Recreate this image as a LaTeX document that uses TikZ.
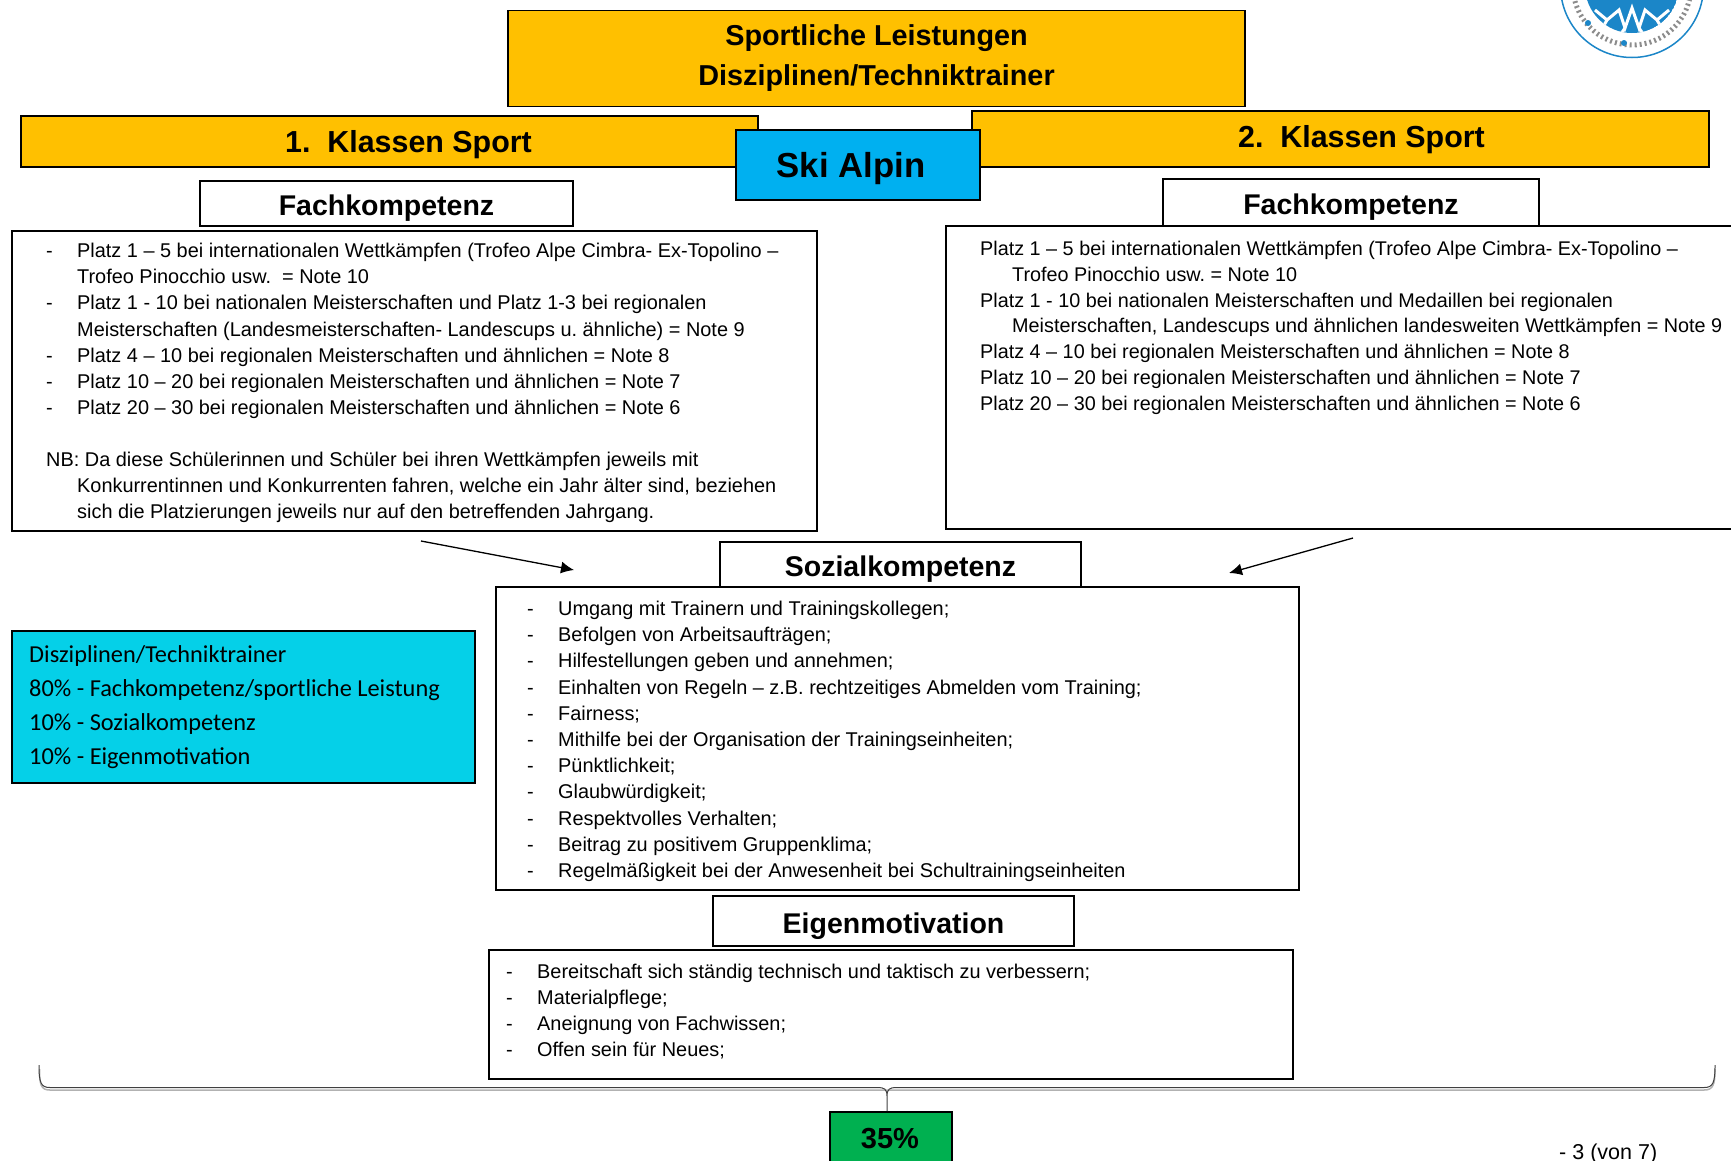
\documentclass[tikz,border=0pt]{standalone}
\usepackage{fontspec}
\setmainfont{Liberation Sans}
\newfontfamily\calibrifont{Carlito}
\usetikzlibrary{arrows.meta}

\definecolor{gold}{HTML}{FFC000}
\definecolor{skiblau}{HTML}{00B0F0}
\definecolor{tuerkis}{HTML}{05D0E8}
\definecolor{gruen}{HTML}{00B050}
\definecolor{logoblau}{HTML}{1B86C8}

\tikzset{
    kasten/.style={draw,line width=1.5pt,inner sep=0pt,align=center},
    kopf/.style={kasten,font=\bfseries\fontsize{28.5}{34}\selectfont,text height=24pt,text depth=0pt},
    klasse/.style={kasten,fill=gold,minimum width=737pt,font=\bfseries\fontsize{30.4}{38}\selectfont,text height=21pt,text depth=0pt},
    zeile/.style={anchor=base west,inner sep=0pt,font=\fontsize{19.9}{22}\selectfont},
    zeilecal/.style={anchor=base west,inner sep=0pt,font=\calibrifont\fontsize{24.35}{30}\selectfont},
    pfeil/.style={-{Latex[length=13pt,width=12pt]},line width=1.3pt},
}

\newcommand{\strich}{\makebox[31pt][l]{-}}

\NewDocumentCommand{\zeilen}{O{zeile}mmmmm}{%
\foreach \txt [count=\i] in {#6} {%
\node[#1] (#2\i) at ({#3},{#4+#5*(\i-1)}) {\txt};%
}%
}

\begin{document}
\begin{tikzpicture}[x=1pt,y=-1pt]
    \clip (0,0) rectangle (1731,1160);

    % Logo.
    \draw[logoblau,line width=1.5pt,fill=white] (1632,-14) circle (71.5);
    \begin{scope}
        \clip (1632,-14) circle (47);
        \fill[logoblau] (1632,-14) circle (47);
        \draw[white,line width=3pt] (1595,10) -- (1607,20) -- (1619,10) -- (1625,28) -- (1632,8) -- (1639,28) -- (1645,10) -- (1657,20) -- (1669,10);
        \draw[white,line width=3pt] (1607,20) -- (1600,32);
        \draw[white,line width=3pt] (1657,20) -- (1664,32);
        \draw[white,line width=3pt] (1625,28) -- (1618,38);
        \draw[white,line width=3pt] (1639,28) -- (1646,38);
    \end{scope}
    \draw[black!45,line width=5pt,dash pattern=on 2pt off 3pt] (1632,-14) ++(170:59) arc (170:10:59);
    \fill[logoblau] (1588,23) circle (3);
    \fill[logoblau] (1624,43) circle (3);

    \node[kasten,fill=gold,minimum width=737pt,minimum height=96pt,
        font=\bfseries\fontsize{28.8}{40}\selectfont] (titel) at (876.5,58.5) {Sportliche Leistungen\\Disziplinen/Techniktrainer};
    \node[klasse,minimum height=51pt] (klasseeins) at (389.5,141.5) {\hspace*{38pt}1.\ \ Klassen Sport};
    \node[klasse,minimum height=56pt,text height=16.6pt] (klassezwei) at (1340.5,139) {\hspace*{42pt}2.\ \ Klassen Sport};
    \node[kasten,fill=skiblau,minimum width=244pt,minimum height=70pt,
        font=\bfseries\fontsize{34.7}{42}\selectfont,text height=24pt,text depth=0pt] (skialpin) at (858,165) {\hspace*{-14pt}Ski Alpin};

    \node[kopf,minimum width=373pt,minimum height=45pt] (fachlinks) at (386.5,203.5) {Fachkompetenz};
    \node[kopf,minimum width=376pt,minimum height=47pt] (fachrechts) at (1351,202.5) {Fachkompetenz};
    \node[kasten,minimum width=805pt,minimum height=300pt] (listelinks) at (414.5,381) {};
    \node[kasten,minimum width=814pt,minimum height=303pt] (listerechts) at (1353,377.5) {};

    % Linke Liste.
    \zeilen{pla}{46}{257.5}{26.2}{
        \strich Platz 1 – 5 bei internationalen Wettkämpfen (Trofeo Alpe Cimbra- Ex-Topolino –,
        \hspace{31pt}Trofeo Pinocchio usw.\ \ = Note 10,
        \strich Platz 1 - 10 bei nationalen Meisterschaften und Platz 1-3 bei regionalen,
        \hspace{31pt}Meisterschaften (Landesmeisterschaften- Landescups u.\ ähnliche) = Note 9,
        \strich Platz 4 – 10 bei regionalen Meisterschaften und ähnlichen = Note 8,
        \strich Platz 10 – 20 bei regionalen Meisterschaften und ähnlichen = Note 7,
        \strich Platz 20 – 30 bei regionalen Meisterschaften und ähnlichen = Note 6}
    \zeilen{nb}{46}{466.5}{26.2}{
        NB: Da diese Schülerinnen und Schüler bei ihren Wettkämpfen jeweils mit,
        {\hspace{31pt}Konkurrentinnen und Konkurrenten fahren, welche ein Jahr älter sind, beziehen},
        \hspace{31pt}sich die Platzierungen jeweils nur auf den betreffenden Jahrgang.}

    % Rechte Liste.
    \zeilen[zeile,font=\fontsize{19.8}{22}\selectfont]{plb}{980}{255.5}{25.8}{
        Platz 1 – 5 bei internationalen Wettkämpfen (Trofeo Alpe Cimbra- Ex-Topolino –,
        \hspace{32pt}Trofeo Pinocchio usw.\ = Note 10,
        Platz 1 - 10 bei nationalen Meisterschaften und Medaillen bei regionalen,
        {\hspace{32pt}Meisterschaften, Landescups und ähnlichen landesweiten Wettkämpfen = Note 9},
        Platz 4 – 10 bei regionalen Meisterschaften und ähnlichen = Note 8,
        Platz 10 – 20 bei regionalen Meisterschaften und ähnlichen = Note 7,
        Platz 20 – 30 bei regionalen Meisterschaften und ähnlichen = Note 6}

    \node[kopf,minimum width=361pt,minimum height=45pt] (sozial) at (900.5,564.5) {Sozialkompetenz};
    \node[kasten,minimum width=803pt,minimum height=303pt] (sozialliste) at (897.5,738.5) {};
    \zeilen{soz}{527}{615.5}{26.2}{
        \strich Umgang mit Trainern und Trainingskollegen;,
        \strich Befolgen von Arbeitsaufträgen;,
        \strich Hilfestellungen geben und annehmen;,
        \strich Einhalten von Regeln – z.B. rechtzeitiges Abmelden vom Training;,
        \strich Fairness;,
        \strich Mithilfe bei der Organisation der Trainingseinheiten;,
        \strich Pünktlichkeit;,
        \strich Glaubwürdigkeit;,
        \strich Respektvolles Verhalten;,
        \strich Beitrag zu positivem Gruppenklima;,
        \strich Regelmäßigkeit bei der Anwesenheit bei Schultrainingseinheiten}

    \node[kopf,minimum width=361pt,minimum height=50pt] (eigen) at (893.5,921) {Eigenmotivation};
    \node[kasten,minimum width=804pt,minimum height=129pt] (eigenliste) at (891,1014.5) {};
    \zeilen{eig}{506}{978}{26}{
        \strich Bereitschaft sich ständig technisch und taktisch zu verbessern;,
        \strich Materialpflege;,
        \strich Aneignung von Fachwissen;,
        \strich Offen sein für Neues;}

    \node[kasten,fill=tuerkis,minimum width=463pt,minimum height=152pt] (gewichtung) at (243.5,707) {};
    \zeilen[zeilecal]{gew}{29}{662}{34.2}{
        Disziplinen/Techniktrainer,
        80\% - Fachkompetenz/sportliche Leistung,
        10\% - Sozialkompetenz,
        10\% - Eigenmotivation}

    % Pfeile zur Sozialkompetenz.
    \coordinate (pfeilAstart) at (421,541);
    \coordinate (pfeilAende) at (574,570);
    \coordinate (pfeilBstart) at (1353,538);
    \coordinate (pfeilBende) at (1229,573);
    \draw[pfeil] (pfeilAstart) -- (pfeilAende);
    \draw[pfeil] (pfeilBstart) -- (pfeilBende);

    \node[kasten,fill=gruen,minimum width=122pt,minimum height=78pt,anchor=north] (prozent) at (891,1111) {};
    \node[inner sep=0pt,font=\bfseries\fontsize{29}{34}\selectfont] (prozenttext) at (890,1139) {35\%};

    % Klammer ueber dem Ergebnis.
    \coordinate (klammerlinks) at (39,1065);
    \coordinate (klammerrechts) at (1715,1065);
    \coordinate (klammerspitze) at (887,1111);
    \draw[gray!60,line width=1.5pt] (39.5,1069) .. controls (39.5,1085) and (41,1090) .. (50,1090) -- (1704,1090) .. controls (1713,1090) and (1715,1085) .. (1715,1069);
    \draw[black!75,line width=1pt] (klammerlinks) .. controls (39,1083) and (41,1087.5) .. (50,1087.5) -- (878,1087.5)
        .. controls (884,1087.5) and (887,1089) .. (887,1096) -- (klammerspitze) -- (887,1096)
        .. controls (887,1089) and (890,1087.5) .. (896,1087.5) -- (1704,1087.5) .. controls (1713,1087.5) and (1715,1083) .. (klammerrechts);

    \node[anchor=base west,inner sep=0pt,font=\fontsize{21.5}{24}\selectfont] (seite) at (1559,1159) {- 3 (von 7)};
\end{tikzpicture}
\end{document}
